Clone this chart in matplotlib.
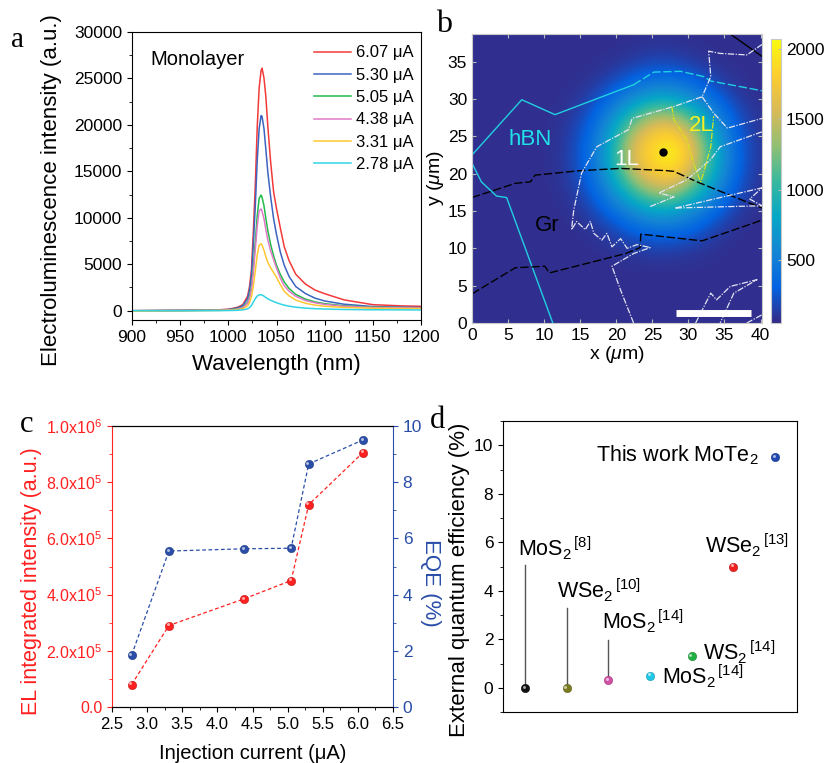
import numpy as np
import matplotlib
matplotlib.use('agg')
import matplotlib.pyplot as plt
from matplotlib.colors import LinearSegmentedColormap, to_rgb
from matplotlib.ticker import MultipleLocator, FuncFormatter
from matplotlib.transforms import offset_copy

plt.rcParams['font.family'] = ['Liberation Sans', 'DejaVu Sans']
plt.rcParams['mathtext.fontset'] = 'custom'
plt.rcParams['mathtext.rm'] = 'Liberation Sans'
plt.rcParams['mathtext.it'] = 'Liberation Sans:italic'

# ---- panel a: EL spectra
wavelength = [900, 950, 990, 1000, 1005, 1010, 1015, 1020, 1022, 1024, 1026, 1028, 1030, 1032, 1034, 1035,
              1037, 1039, 1041, 1044, 1047, 1050, 1054, 1058, 1063, 1070, 1080, 1090, 1100, 1120, 1150, 1180, 1200]
el_607 = [0, 40, 100, 160, 260, 390, 650, 1570, 2600, 4440, 8600, 13570, 19800, 24000, 25850, 26100,
          25050, 22970, 19840, 15920, 12790, 11000, 8900, 6900, 5400, 3920, 2870, 2220, 1830, 1170, 650, 520, 470]
el_530 = [0, 30, 80, 130, 210, 320, 540, 1300, 2200, 3800, 7200, 11300, 16200, 19600, 21000, 20900,
          19600, 17300, 14900, 12200, 9900, 8200, 6300, 4900, 3700, 2600, 1850, 1350, 1050, 700, 450, 380, 350]
el_505 = [0, 20, 60, 90, 140, 220, 380, 900, 1500, 2600, 4700, 7400, 10200, 12100, 12450, 12200,
          11300, 9900, 8600, 7100, 5900, 4900, 3900, 3100, 2400, 1750, 1250, 950, 760, 530, 380, 330, 310]
el_438 = [0, 20, 50, 80, 120, 190, 330, 800, 1350, 2300, 4200, 6600, 9100, 10750, 10950, 10700,
          9900, 8700, 7600, 6400, 5500, 4600, 3500, 2700, 2100, 1550, 1100, 850, 680, 480, 350, 310, 290]
el_331 = [-50, 0, 30, 50, 80, 120, 210, 520, 880, 1500, 2700, 4300, 6000, 7050, 7200, 7050,
          6500, 5800, 5200, 4600, 4100, 3600, 2800, 2100, 1600, 1150, 800, 600, 480, 350, 270, 240, 230]
el_278 = [0, 0, 10, 20, 30, 50, 90, 200, 330, 560, 950, 1300, 1580, 1700, 1720, 1690,
          1570, 1420, 1280, 1120, 980, 860, 720, 600, 490, 380, 280, 220, 180, 130, 100, 90, 80]
spec_labels = ['6.07 μA', '5.30 μA', '5.05 μA', '4.38 μA', '3.31 μA', '2.78 μA']
spec_colors = ['#f23a3a', '#3c64c0', '#22bb4a', '#e07ac8', '#ffc830', '#30d4e4']

# ---- panel b: EL map (coarse reading of the image, x 12.5..40, y 37.5..7.5 step 2.5)
map_x = [12.5, 15, 17.5, 20, 22.5, 25, 27.5, 30, 32.5, 35, 37.5, 40]
map_y = [37.5, 35, 32.5, 30, 27.5, 25, 22.5, 20, 17.5, 15, 12.5, 10, 7.5]
map_vals = [
    [80, 80, 80, 80, 80, 90, 90, 80, 80, 80, 80, 80],
    [80, 80, 80, 90, 130, 170, 170, 130, 90, 80, 80, 80],
    [80, 80, 110, 200, 320, 390, 400, 340, 220, 110, 80, 80],
    [80, 110, 230, 420, 620, 780, 790, 640, 450, 250, 110, 80],
    [90, 170, 380, 700, 1080, 1400, 1440, 1150, 760, 420, 190, 90],
    [100, 230, 500, 930, 1530, 1800, 1900, 1650, 1060, 560, 240, 100],
    [110, 260, 540, 1050, 1650, 1900, 2050, 1820, 1200, 620, 270, 110],
    [100, 230, 500, 930, 1500, 1780, 1880, 1600, 1060, 560, 240, 100],
    [90, 170, 380, 700, 1050, 1350, 1400, 1120, 760, 420, 190, 90],
    [80, 110, 230, 420, 620, 780, 790, 640, 450, 250, 110, 80],
    [80, 80, 110, 200, 320, 390, 400, 340, 220, 110, 80, 80],
    [80, 80, 80, 100, 130, 160, 160, 130, 100, 80, 80, 80],
    [80, 80, 80, 80, 80, 80, 80, 80, 80, 80, 80, 80],
]
map_bg = 80
parula = ['#352a87', '#0363e1', '#1485d4', '#06a7c6', '#38b99e', '#92bf73', '#d9ba56', '#fcce2e', '#f9fb0e']

hbn_a = [(0, 22.5), (6.9, 29.9), (11.5, 27.9), (22.4, 31.9)]
hbn_b = [(22.4, 31.9), (25.2, 33.6), (28.9, 33.7), (32.1, 33.0), (33.1, 32.4), (40.2, 31.1)]
hbn_c = [(0, 21.4), (1.3, 18.9), (3.4, 17.0), (4.8, 16.8), (11.2, 0)]
gr_top = [(0, 16.8), (6.0, 18.7), (8.1, 18.9), (8.75, 19.8), (15.0, 20.4), (20.6, 20.7), (27.0, 20.4),
          (28.0, 20.3), (31.2, 18.9), (36.3, 16.9), (40.2, 15.4)]
gr_bot = [(0, 3.9), (6.0, 7.4), (10.1, 7.6), (10.7, 6.7), (21.3, 9.3), (23.3, 10.1), (23.4, 11.9),
          (31.9, 11.0), (39.1, 13.4), (40.2, 13.8)]
gr_corner = [(35.8, 38.7), (40.2, 35.7)]
flake_main = [(22.4, 0), (20.6, 4.4), (19.4, 7.6), (22.4, 9.3), (24.7, 10.1), (22.9, 10.5), (21.5, 10.0),
              (20.6, 11.3), (19.4, 10.2), (18.7, 12.0), (18.0, 11.1), (16.9, 12.0), (16.4, 13.6), (15.7, 12.5),
              (14.5, 13.6), (13.8, 12.5), (14.1, 15.1), (15.2, 20.1), (17.3, 23.6), (21.7, 25.9), (22.2, 27.4),
              (28.0, 29.0), (31.9, 30.3), (33.1, 33.0), (32.8, 36.4), (34.4, 36.1), (38.1, 35.9), (40.2, 37.3)]
flake_branch = [(31.9, 30.3), (33.5, 28.1), (35.4, 26.1), (40.2, 27.4)]
flake_inner = [(24.7, 15.6), (28.0, 16.9), (25.9, 17.4), (29.8, 19.2), (33.1, 21.9), (34.4, 23.6), (40.2, 25.6)]
flake_streak = [(28.2, 15.4), (40.2, 18.1), (38.5, 16.6), (40.2, 15.7), (28.2, 15.4)]
flake_br = [(31.0, 0), (33.1, 4.0), (33.9, 3.1), (35.8, 4.9), (39.5, 5.8), (36.3, 4.0), (34.4, 0)]
flake_br2 = [(38.1, 0), (40.2, 1.1)]
bilayer = [(27.7, 29.0), (28.0, 27.2), (29.8, 24.5), (30.7, 21.4), (31.7, 18.9), (32.1, 20.1),
           (33.1, 23.6), (33.5, 27.7)]
spot = (26.5, 22.9)
scalebar_x = [28.3, 38.7]
scalebar_y = 1.3

# ---- panel c
current = [2.78, 3.31, 4.38, 5.05, 5.30, 6.07]
el_integrated = [0.08e6, 0.29e6, 0.385e6, 0.45e6, 0.72e6, 0.905e6]
eqe = [1.85, 5.55, 5.63, 5.65, 8.65, 9.5]

# ---- panel d
d_pos = [1, 2, 3, 4, 5, 6, 7]
d_eqe = [0.0, 0.0, 0.3, 0.5, 1.3, 5.0, 9.5]
d_colors = ['#111111', '#7a7a20', '#d050a8', '#20c8e8', '#20b040', '#f02020', '#2048b0']
d_labels = [r'MoS$_2$$^{\,[8]}$', r'WSe$_2$$^{\,[10]}$', r'MoS$_2$$^{\,[14]}$', r'MoS$_2$$^{\,[14]}$',
            r'WS$_2$$^{\,[14]}$', r'WSe$_2$$^{\,[13]}$', r'This work MoTe$_2$']

fig = plt.figure(figsize=(8.27, 7.63), dpi=100)
W, H = 827.0, 763.0


def box(l, t, r, b):
    return [l / W, (H - b) / H, (r - l) / W, (b - t) / H]


def ball(axis, x, y, c, ms=6, **kw):
    # shaded sphere look: base dot plus a small light spot
    c = np.array(to_rgb(c))
    axis.plot(x, y, 'o', ms=ms, mfc=c, mec=c * 0.75, mew=0.4, ls='none', zorder=3, **kw)
    hl = c + (1 - c) * 0.65
    tr = offset_copy(axis.transData, fig=axis.figure, x=-0.9, y=0.9, units='points')
    axis.plot(x, y, 'o', ms=ms * 0.35, mfc=hl, mec='none', ls='none', zorder=4, transform=tr)


# ======== a
ax = fig.add_axes(box(132, 32, 421, 320))
specs = [el_607, el_530, el_505, el_438, el_331, el_278]
for s, lab, c in zip(specs, spec_labels, spec_colors):
    ax.plot(wavelength, s, color=c, lw=1.1, label=lab)
ax.set_xlim(900, 1200)
ax.set_ylim(-1000, 30000)
ax.xaxis.set_major_locator(MultipleLocator(50))
ax.xaxis.set_minor_locator(MultipleLocator(25))
ax.yaxis.set_major_locator(MultipleLocator(5000))
ax.yaxis.set_minor_locator(MultipleLocator(2500))
ax.tick_params(which='both', direction='out', top=False, right=False, labelsize=12.5)
ax.set_xlabel('Wavelength (nm)', fontsize=16)
ax.set_ylabel('Electroluminescence intensity (a.u.)', fontsize=16)
ax.xaxis.set_label_coords(0.5, -0.118)
ax.yaxis.set_label_coords(-0.242, 0.451)
ax.text(0.062, 0.903, 'Monolayer', transform=ax.transAxes, fontsize=14.5, va='center')
ax.legend(loc='upper right', bbox_to_anchor=(1.005, 0.985), frameon=False, fontsize=12, handlelength=2.2,
          labelspacing=0.44, borderaxespad=0.25, handletextpad=0.3, borderpad=0.3)
fig.text(11 / W, 1 - 47 / H, 'a', family='Liberation Serif', fontsize=21)

# ======== b
axb = fig.add_axes(box(472, 34, 762, 323))
gx = np.arange(0, 42.5, 2.5)
gy = np.arange(40, -2.5, -2.5)
grid = np.full((len(gy), len(gx)), float(map_bg))
ix0 = int(np.argmin(np.abs(gx - map_x[0])))
iy0 = int(np.argmin(np.abs(gy - map_y[0])))
grid[iy0:iy0 + len(map_y), ix0:ix0 + len(map_x)] = np.array(map_vals, dtype=float)
cmap = LinearSegmentedColormap.from_list('parula', parula)
im = axb.imshow(grid, extent=[-1.25, 41.25, -1.25, 41.25], origin='upper', cmap=cmap,
                vmin=52, vmax=2071, interpolation='bicubic', aspect='auto')


def pl(pts, **kw):
    xs, ys = zip(*pts)
    axb.plot(xs, ys, **kw)


pl(hbn_a, color='#20d0e0', lw=1.0)
pl(hbn_b, color='#20d0e0', lw=1.0, ls=(0, (6, 2)))
pl(hbn_c, color='#20d0e0', lw=1.0)
pl(gr_top, color='black', lw=1.0, ls=(0, (6, 2)))
pl(gr_bot, color='black', lw=1.0, ls=(0, (6, 2)))
pl(gr_corner, color='black', lw=1.0)
for f in [flake_main, flake_branch, flake_inner, flake_streak, flake_br, flake_br2]:
    pl(f, color='#e4e4f2', lw=0.9, ls=(0, (5, 1.2, 1, 1.2)))
pl(bilayer, color='#d8e020', lw=0.9, ls=(0, (5, 1.2, 1, 1.2)))
axb.plot([spot[0]], [spot[1]], 'o', color='black', ms=5)
axb.plot(scalebar_x, [scalebar_y, scalebar_y], color='white', lw=5, solid_capstyle='butt')
axb.text(8.0, 24.6, 'hBN', color='#20e0e8', fontsize=16, ha='center', va='center')
axb.text(21.5, 21.9, '1L', color='white', fontsize=16, ha='center', va='center')
axb.text(31.8, 26.4, '2L', color='#f8f020', fontsize=16, ha='center', va='center')
axb.text(10.4, 13.0, 'Gr', color='black', fontsize=16, ha='center', va='center')
axb.set_xlim(0, 40.2)
axb.set_ylim(0, 38.7)
axb.xaxis.set_major_locator(MultipleLocator(5))
axb.yaxis.set_major_locator(MultipleLocator(5))
axb.tick_params(direction='in', top=True, right=True, labelsize=12.5, length=3, color='#bbbbbb')
for sp in axb.spines.values():
    sp.set_color('#c8c8c8')
axb.set_xlabel(r'x ($\mu$m)', fontsize=14, labelpad=1)
axb.set_ylabel(r'y ($\mu$m)', fontsize=14, labelpad=1)
cax = fig.add_axes(box(771, 39, 781, 323))
cb = fig.colorbar(im, cax=cax, ticks=[500, 1000, 1500, 2000])
cb.outline.set_edgecolor('#c8c8c8')
cax.tick_params(direction='in', labelsize=12.5, length=2, color='#bbbbbb')
fig.text(436 / W, 1 - 32 / H, 'b', family='Liberation Serif', fontsize=23)

# ======== c
axc = fig.add_axes(box(112, 426, 393, 707))
red, blue = '#ff2020', '#2a4ea8'
axc.plot(current, el_integrated, ls=(0, (3, 2)), color=red, lw=0.9)
ball(axc, current, el_integrated, red)
axc.set_xlim(2.5, 6.5)
axc.set_ylim(0, 1.0e6)
axc.xaxis.set_major_locator(MultipleLocator(0.5))
axc.xaxis.set_minor_locator(MultipleLocator(0.25))
axc.yaxis.set_major_locator(MultipleLocator(2e5))
axc.yaxis.set_minor_locator(MultipleLocator(1e5))


def sci(v, pos):
    if v <= 0:
        return '0.0'
    e = int(np.floor(np.log10(v)))
    return r'%.1fx10$^{%d}$' % (v / 10 ** e, e)


axc.yaxis.set_major_formatter(FuncFormatter(sci))
axc.xaxis.set_major_formatter(FuncFormatter(lambda v, p: '%.1f' % v))
axc.tick_params(which='both', direction='out', labelsize=12)
axc.tick_params(axis='y', which='both', colors=red, labelsize=11.5)
axc.spines['left'].set_color(red)
axc.spines['right'].set_visible(False)
axc.set_xlabel('Injection current (μA)', fontsize=14.5)
axc.xaxis.set_label_coords(0.5, -0.13)
axc.set_ylabel('EL integrated intensity (a.u.)', fontsize=15.5, color=red)
axc.yaxis.set_label_coords(-0.249, 0.448)
axc2 = axc.twinx()
axc2.plot(current, eqe, ls=(0, (3, 2)), color=blue, lw=0.9)
ball(axc2, current, eqe, blue)
axc2.set_ylim(0, 10)
axc2.yaxis.set_major_locator(MultipleLocator(2))
axc2.yaxis.set_minor_locator(MultipleLocator(1))
axc2.tick_params(axis='y', which='both', direction='out', colors=blue, labelsize=12.5)
axc2.spines['right'].set_color(blue)
axc2.spines['left'].set_visible(False)
axc2.set_ylabel('EQE (%)', fontsize=16, color=blue, rotation=270, va='center')
axc2.yaxis.set_label_coords(1.132, 0.44)
fig.text(20 / W, 1 - 432 / H, 'c', family='Liberation Serif', fontsize=22)

# ======== d
axd = fig.add_axes(box(503, 421, 797, 712))
for xp, yv, c in zip(d_pos, d_eqe, d_colors):
    ball(axd, [xp], [yv], c)
axd.plot([d_pos[0], d_pos[0]], [d_eqe[0], 5.05], color='#555555', lw=1.0)
axd.plot([d_pos[1], d_pos[1]], [d_eqe[1], 3.3], color='#555555', lw=1.0)
axd.plot([d_pos[2], d_pos[2]], [d_eqe[2], 1.97], color='#555555', lw=1.0)
fs = 15.5
axd.text(0.83, 5.4, d_labels[0], fontsize=fs, ha='left', va='baseline')
axd.text(1.77, 3.7, d_labels[1], fontsize=fs, ha='left', va='baseline')
axd.text(2.85, 2.4, d_labels[2], fontsize=fs, ha='left', va='baseline')
axd.text(4.29, 0.45, d_labels[3], fontsize=fs, ha='left', va='center')
axd.text(5.27, 1.45, d_labels[4], fontsize=fs, ha='left', va='center')
axd.text(5.32, 5.55, d_labels[5], fontsize=fs, ha='left', va='baseline')
axd.text(6.61, 9.6, d_labels[6], fontsize=fs, ha='right', va='center')
axd.set_xlim(0.47, 7.53)
axd.set_ylim(-1, 11)
axd.set_xticks([])
axd.yaxis.set_major_locator(MultipleLocator(2))
axd.yaxis.set_minor_locator(MultipleLocator(1))
axd.tick_params(which='both', direction='out', labelsize=12.5)
axd.set_ylabel('External quantum efficiency (%)', fontsize=16)
axd.yaxis.set_label_coords(-0.112, 0.454)
fig.text(430 / W, 1 - 428 / H, 'd', family='Liberation Serif', fontsize=22)

fig.savefig('out.png', dpi=100)
